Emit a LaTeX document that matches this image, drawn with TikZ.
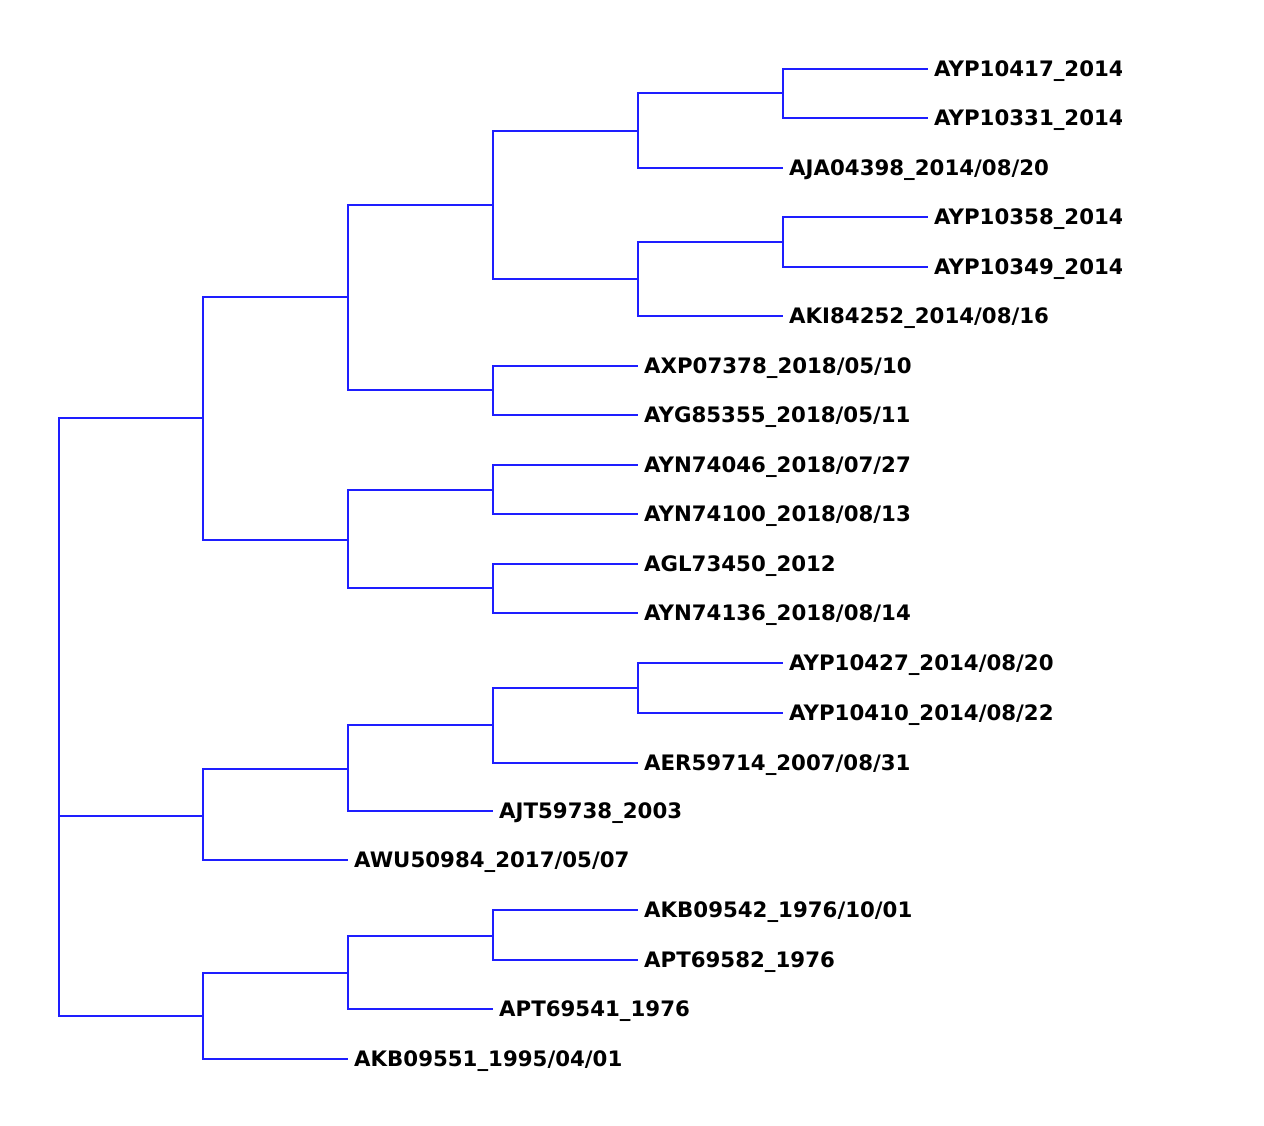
\documentclass[tikz,border=0pt]{standalone}
\usepackage{fontspec}
\setmainfont{DejaVu Sans}
\begin{document}
\begin{tikzpicture}[x=1pt,y=-1pt,
  edge/.style={draw={rgb,255:red,30;green,30;blue,255}, line width=1.6pt},
  leaf/.style={anchor=west, inner xsep=6pt, inner ysep=0pt, text height=15.5pt, text depth=0pt,
    font=\bfseries\fontsize{21.3}{25}\selectfont}]
\useasboundingbox (0,0) rectangle (1264,1126);
\begin{scope}
\clip (0,0) rectangle (1121,1126);
% internal nodes
\coordinate (root) at (59,717);
\coordinate (A) at (203,418);
\coordinate (B) at (348,297);
\coordinate (C) at (493,205);
\coordinate (D) at (493,390);
\coordinate (E) at (638,131);
\coordinate (F) at (638,279);
\coordinate (G) at (783,93);
\coordinate (H) at (783,242);
\coordinate (I) at (348,540);
\coordinate (J) at (493,490);
\coordinate (K) at (493,588);
\coordinate (L) at (203,816);
\coordinate (M) at (203,1016);
\coordinate (N) at (348,769);
\coordinate (O) at (493,725);
\coordinate (P) at (638,688);
\coordinate (Q) at (348,973);
\coordinate (R) at (493,936);
% leaves
\node[leaf] (l0)  at (928,69)   {AYP10417\_2014/};
\node[leaf] (l1)  at (928,118)  {AYP10331\_2014/};
\node[leaf] (l2)  at (783,168)  {AJA04398\_2014/08/20};
\node[leaf] (l3)  at (928,217)  {AYP10358\_2014/};
\node[leaf] (l4)  at (928,267)  {AYP10349\_2014/};
\node[leaf] (l5)  at (783,316)  {AKI84252\_2014/08/16};
\node[leaf] (l6)  at (638,366)  {AXP07378\_2018/05/10};
\node[leaf] (l7)  at (638,415)  {AYG85355\_2018/05/11};
\node[leaf] (l8)  at (638,465)  {AYN74046\_2018/07/27};
\node[leaf] (l9)  at (638,514)  {AYN74100\_2018/08/13};
\node[leaf] (l10) at (638,564)  {AGL73450\_2012};
\node[leaf] (l11) at (638,613)  {AYN74136\_2018/08/14};
\node[leaf] (l12) at (783,663)  {AYP10427\_2014/08/20};
\node[leaf] (l13) at (783,713)  {AYP10410\_2014/08/22};
\node[leaf] (l14) at (638,763)  {AER59714\_2007/08/31};
\node[leaf] (l15) at (493,811)  {AJT59738\_2003};
\node[leaf] (l16) at (348,860)  {AWU50984\_2017/05/07};
\node[leaf] (l17) at (638,910)  {AKB09542\_1976/10/01};
\node[leaf] (l18) at (638,960)  {APT69582\_1976};
\node[leaf] (l19) at (493,1009) {APT69541\_1976};
\node[leaf] (l20) at (348,1059) {AKB09551\_1995/04/01};
% edges
\draw[edge] (root) |- (A);
\draw[edge] (root) |- (L);
\draw[edge] (root) |- (M);
\draw[edge] (A) |- (B);
\draw[edge] (A) |- (I);
\draw[edge] (B) |- (C);
\draw[edge] (B) |- (D);
\draw[edge] (C) |- (E);
\draw[edge] (C) |- (F);
\draw[edge] (E) |- (G);
\draw[edge] (E) |- (l2.west);
\draw[edge] (G) |- (l0.west);
\draw[edge] (G) |- (l1.west);
\draw[edge] (F) |- (H);
\draw[edge] (F) |- (l5.west);
\draw[edge] (H) |- (l3.west);
\draw[edge] (H) |- (l4.west);
\draw[edge] (D) |- (l6.west);
\draw[edge] (D) |- (l7.west);
\draw[edge] (I) |- (J);
\draw[edge] (I) |- (K);
\draw[edge] (J) |- (l8.west);
\draw[edge] (J) |- (l9.west);
\draw[edge] (K) |- (l10.west);
\draw[edge] (K) |- (l11.west);
\draw[edge] (L) |- (N);
\draw[edge] (L) |- (l16.west);
\draw[edge] (N) |- (O);
\draw[edge] (N) |- (l15.west);
\draw[edge] (O) |- (P);
\draw[edge] (O) |- (l14.west);
\draw[edge] (P) |- (l12.west);
\draw[edge] (P) |- (l13.west);
\draw[edge] (M) |- (Q);
\draw[edge] (M) |- (l20.west);
\draw[edge] (Q) |- (R);
\draw[edge] (Q) |- (l19.west);
\draw[edge] (R) |- (l17.west);
\draw[edge] (R) |- (l18.west);
\end{scope}
\end{tikzpicture}
\end{document}
